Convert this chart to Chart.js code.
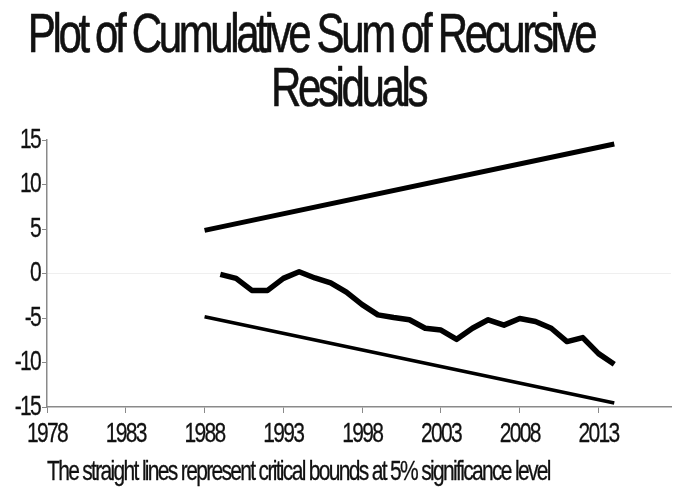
<!DOCTYPE html>
<html>
<head>
<meta charset="utf-8">
<title>CUSUM of recursive residuals</title>
<script src="https://cdn.jsdelivr.net/npm/chart.js@4.4.1/dist/chart.umd.min.js"></script>
<style>
  html, body { margin: 0; padding: 0; background: #ffffff; }
  canvas { display: block; }
</style>
</head>
<body>
<canvas id="cusum" width="675" height="491"></canvas>
<script>
// Cumulative sum of recursive residuals, one value per year
const years = [1989, 1990, 1991, 1992, 1993, 1994, 1995, 1996, 1997, 1998, 1999, 2000, 2001,
               2002, 2003, 2004, 2005, 2006, 2007, 2008, 2009, 2010, 2011, 2012, 2013, 2014];
const cusum = [-0.1, -0.55, -1.9, -1.9, -0.55, 0.2, -0.5, -1.05, -2.1, -3.5, -4.65, -4.95, -5.2,
               -6.15, -6.35, -7.4, -6.15, -5.2, -5.8, -5.05, -5.4, -6.15, -7.65, -7.2, -9.0, -10.2];

// 5% critical bounds (straight lines)
const boundYears = [1988, 2014];
const upperBound = [4.85, 14.55];
const lowerBound = [-4.85, -14.55];

// Axis ticks
const xTicks = [1978, 1983, 1988, 1993, 1998, 2003, 2008, 2013];
const yTicks = [-15, -10, -5, 0, 5, 10, 15];

const titleLines = ['Plot of Cumulative Sum of Recursive', 'Residuals'];
const footNote = 'The straight lines represent critical bounds at 5% significance level';

const FONT = '"Liberation Sans", Arial, Helvetica, sans-serif';
const SQUEEZE = 0.75;      // horizontal compression of all lettering
const TRACKING = -0.08;    // letter spacing, in em
const AXIS_GREY = '#8a8a8a';

const toPoints = (xs, ys) => xs.map((x, i) => ({ x, y: ys[i] }));

// Draws every label condensed and tightly tracked around its anchor point
function narrowText(ctx) {
  const original = ctx.fillText;
  ctx.fillText = function (text, x, y) {
    const m = /([\d.]+)px/.exec(this.font);
    const size = m ? parseFloat(m[1]) : 12;
    this.save();
    this.translate(x, y);
    this.scale(SQUEEZE, 1);
    this.letterSpacing = (TRACKING * size).toFixed(2) + 'px';
    original.call(this, text, 0, 0);
    this.strokeStyle = this.fillStyle;
    this.lineWidth = size > 40 ? 0.6 : 0.3;
    this.lineJoin = 'round';
    this.strokeText(text, 0, 0);
    this.restore();
  };
  return () => { ctx.fillText = original; };
}

const condensedType = {
  id: 'condensedType',
  beforeDraw(chart) {
    chart.$restoreText = narrowText(chart.ctx);
  },
  afterDraw(chart) {
    const ctx = chart.ctx;
    ctx.save();
    ctx.fillStyle = '#111111';
    ctx.textBaseline = 'alphabetic';
    ctx.font = '56px ' + FONT;
    ctx.textAlign = 'center';
    ctx.fillText(titleLines[0], 311, 52);
    ctx.fillText(titleLines[1], 348, 106);
    ctx.font = '28px ' + FONT;
    ctx.textAlign = 'left';
    ctx.fillText(footNote, 47, 480);
    ctx.restore();
    chart.$restoreText();
  }
};

new Chart(document.getElementById('cusum'), {
  type: 'line',
  data: {
    datasets: [
      {
        label: 'Upper bound',
        data: toPoints(boundYears, upperBound),
        borderColor: '#000000',
        borderWidth: 5,
        pointRadius: 0
      },
      {
        label: 'CUSUM',
        data: toPoints(years, cusum),
        borderColor: '#000000',
        borderWidth: 5.5,
        borderJoinStyle: 'round',
        pointRadius: 0,
        tension: 0
      },
      {
        label: 'Lower bound',
        data: toPoints(boundYears, lowerBound),
        borderColor: '#000000',
        borderWidth: 3.5,
        pointRadius: 0
      }
    ]
  },
  options: {
    responsive: false,
    animation: false,
    events: [],
    layout: { padding: { top: 140, left: 2, right: 4, bottom: 0 } },
    plugins: {
      legend: { display: false },
      title: { display: false },
      tooltip: { enabled: false }
    },
    scales: {
      x: {
        type: 'linear',
        min: 1978,
        max: 2017.6,
        afterBuildTicks: (scale) => { scale.ticks = xTicks.map(v => ({ value: v })); },
        afterFit: (scale) => { scale.height = 84; },
        border: { display: true, color: AXIS_GREY, width: 1.5 },
        grid: { drawOnChartArea: false, drawTicks: true, tickLength: 6, tickColor: AXIS_GREY },
        ticks: {
          autoSkip: false,
          maxRotation: 0,
          padding: 4,
          color: '#111111',
          font: { family: FONT, size: 28 },
          callback: (v) => String(v)
        }
      },
      y: {
        min: -15,
        max: 15,
        afterBuildTicks: (scale) => { scale.ticks = yTicks.map(v => ({ value: v })); },
        afterFit: (scale) => { scale.width = 45; },
        border: { display: true, color: AXIS_GREY, width: 1.5 },
        grid: {
          drawOnChartArea: true,
          drawTicks: true,
          tickLength: 5,
          tickColor: AXIS_GREY,
          color: (c) => (c.tick && c.tick.value === 0 ? '#efefef' : 'rgba(0,0,0,0)')
        },
        ticks: {
          padding: 2,
          color: '#111111',
          font: { family: FONT, size: 28 },
          callback: (v) => String(v)
        }
      }
    }
  },
  plugins: [condensedType]
});
</script>
</body>
</html>
